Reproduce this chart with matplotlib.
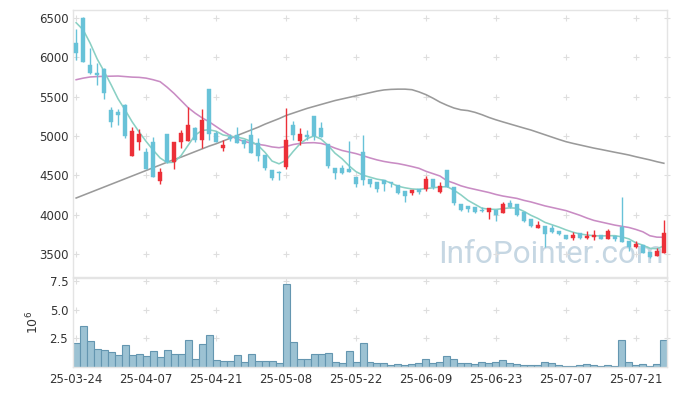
import matplotlib
matplotlib.use("Agg")
import matplotlib.pyplot as plt
import numpy as np

# ---------------- data ----------------
opens = [6178, 6505, 5902, 5804, 5851, 5330, 5304, 5393, 4748, 4919,
         4799, 4927, 4430, 5025, 4673, 4927, 4940, 5105, 4948, 5597,
         5040, 4843, 4990, 5010, 4948, 5010, 4906, 4757, 4567, 4545,
         4609, 5139, 4940, 5012, 5253, 5101, 4893, 4588, 4588, 4575,
         4481, 4791, 4455, 4408, 4440, 4418, 4376, 4303, 4270, 4322,
         4325, 4452, 4290, 4567, 4346, 4134, 4109, 4092, 4058, 4036,
         4058, 4023, 4143, 4132, 4028, 3943, 3833, 3858, 3833, 3795,
         3740, 3706, 3770, 3697, 3720, 3740, 3689, 3727, 3838, 3663,
         3591, 3612, 3527, 3476, 3506]
highs = [6356, 6510, 6115, 5924, 5870, 5372, 5339, 5400, 5117, 5088,
         4843, 4990, 4596, 5025, 4923, 5079, 5372, 5117, 5339, 5597,
         5060, 4948, 5030, 5117, 4948, 5169, 4970, 4757, 4567, 4550,
         5351, 5190, 5097, 5075, 5253, 5177, 4893, 4588, 4630, 4935,
         4481, 5012, 4455, 4408, 4440, 4418, 4376, 4303, 4312, 4322,
         4490, 4452, 4418, 4567, 4346, 4134, 4109, 4092, 4090, 4080,
         4058, 4160, 4190, 4132, 4028, 3943, 3918, 3858, 3870, 3795,
         3740, 3780, 3770, 3790, 3800, 3740, 3820, 3727, 4221, 3663,
         3660, 3612, 3527, 3570, 3930]
lows = [5966, 5940, 5790, 5648, 5466, 5110, 5139, 4970, 4748, 4821,
        4576, 4481, 4385, 4650, 4579, 4850, 4940, 4920, 4843, 4948,
        4920, 4808, 4930, 4906, 4843, 4787, 4685, 4570, 4440, 4440,
        4575, 4948, 4885, 4948, 4948, 4983, 4590, 4448, 4520, 4545,
        4350, 4380, 4350, 4290, 4300, 4350, 4260, 4160, 4250, 4260,
        4300, 4320, 4280, 4346, 4120, 4040, 4030, 4020, 4030, 3940,
        3920, 4023, 4080, 3985, 3900, 3845, 3833, 3583, 3770, 3740,
        3685, 3680, 3690, 3690, 3680, 3689, 3689, 3660, 3647, 3540,
        3570, 3515, 3450, 3476, 3506]
closes = [6051, 5944, 5797, 5771, 5542, 5181, 5270, 4999, 5063, 5021,
          4576, 4481, 4537, 4673, 4923, 5033, 5139, 4948, 5203, 5025,
          4927, 4885, 4955, 4906, 4893, 4787, 4748, 4596, 4461, 4532,
          4948, 5012, 5021, 4986, 4999, 4983, 4621, 4532, 4532, 4545,
          4389, 4440, 4392, 4330, 4385, 4395, 4278, 4240, 4312, 4287,
          4452, 4354, 4363, 4346, 4143, 4058, 4067, 4036, 4050, 4080,
          3994, 4134, 4092, 3990, 3918, 3858, 3867, 3752, 3782, 3752,
          3685, 3740, 3697, 3727, 3735, 3689, 3795, 3685, 3647, 3591,
          3621, 3515, 3464, 3536, 3761]
volume_m = [2.08, 3.57, 2.23, 1.61, 1.46, 1.34, 1.07, 1.88, 1.07, 1.16,
            0.98, 1.43, 0.89, 1.52, 1.16, 1.16, 2.32, 0.71, 1.96, 2.77,
            0.63, 0.54, 0.54, 1.07, 0.45, 1.16, 0.54, 0.54, 0.54, 0.36,
            7.23, 2.14, 0.71, 0.71, 1.16, 1.16, 1.25, 0.45, 0.36, 1.43,
            0.45, 2.05, 0.45, 0.36, 0.36, 0.18, 0.27, 0.18, 0.27, 0.36,
            0.71, 0.36, 0.45, 0.98, 0.71, 0.36, 0.36, 0.27, 0.45, 0.36,
            0.45, 0.63, 0.36, 0.27, 0.18, 0.18, 0.18, 0.45, 0.36, 0.18,
            0.09, 0.09, 0.18, 0.27, 0.18, 0.09, 0.18, 0.09, 2.32, 0.45,
            0.18, 0.27, 0.09, 0.27, 2.32]
ma_short = [6440, 6350, 6180, 5980, 5820, 5650, 5470, 5330, 5180, 5050,
            4930, 4820, 4720, 4660, 4665, 4750, 4880, 5010, 5070, 5078,
            5060, 5012, 4995, 4985, 4965, 4930, 4880, 4790, 4680, 4645,
            4690, 4800, 4900, 4965, 5000, 4960, 4880, 4780, 4710, 4620,
            4545, 4500, 4475, 4450, 4435, 4400, 4360, 4340, 4325, 4320,
            4330, 4340, 4350, 4355, 4310, 4250, 4180, 4130, 4080, 4068,
            4065, 4075, 4085, 4080, 4040, 3990, 3950, 3900, 3870, 3840,
            3805, 3775, 3752, 3740, 3730, 3727, 3730, 3731, 3715, 3690,
            3640, 3610, 3570, 3565, 3600]
ma_mid = [5715, 5735, 5750, 5755, 5758, 5760, 5762, 5755, 5748, 5745,
          5735, 5715, 5690, 5620, 5540, 5450, 5360, 5290, 5230, 5180,
          5120, 5060, 5005, 4960, 4930, 4910, 4893, 4880, 4860, 4850,
          4865, 4890, 4905, 4912, 4914, 4905, 4880, 4845, 4815, 4795,
          4775, 4748, 4720, 4695, 4675, 4660, 4648, 4630, 4610, 4588,
          4550, 4520, 4490, 4430, 4400, 4365, 4340, 4320, 4300, 4280,
          4255, 4235, 4220, 4205, 4180, 4160, 4135, 4110, 4090, 4070,
          4050, 4020, 3990, 3955, 3925, 3905, 3885, 3865, 3850, 3835,
          3810, 3780, 3730, 3712, 3710]
ma_long = [4210, 4245, 4280, 4315, 4350, 4385, 4420, 4455, 4490, 4525,
           4560, 4595, 4630, 4665, 4700, 4730, 4765, 4800, 4835, 4870,
           4900, 4935, 4970, 5005, 5040, 5075, 5110, 5150, 5185, 5220,
           5260, 5290, 5320, 5350, 5375, 5400, 5425, 5450, 5470, 5490,
           5510, 5530, 5550, 5570, 5585, 5592, 5595, 5595, 5588, 5560,
           5525, 5480, 5430, 5390, 5355, 5332, 5322, 5300, 5270, 5235,
           5205, 5178, 5152, 5126, 5100, 5075, 5045, 5015, 4985, 4955,
           4927, 4905, 4885, 4865, 4845, 4828, 4810, 4792, 4775, 4757,
           4735, 4715, 4695, 4672, 4652]
date_labels = ['25-03-24', '25-04-07', '25-04-21', '25-05-08', '25-05-22',
               '25-06-09', '25-06-23', '25-07-07', '25-07-21']
date_label_idx = [0, 10, 20, 30, 40, 50, 60, 70, 80]
price_ticks = [3500, 4000, 4500, 5000, 5500, 6000, 6500]
vol_ticks = [2.5, 5.0, 7.5]

# ---------------- style ----------------
UP = '#ec3038'
DOWN = '#68c2d8'
GRID = '#dedede'
SPINE = '#e4e4e4'
TXT = '#333333'

fig = plt.figure(figsize=(6.77, 3.96), dpi=100)
W, H = 677, 396
ax = fig.add_axes([73 / W, 1 - 277 / H, (667 - 73) / W, (277 - 10) / H])
axv = fig.add_axes([73 / W, 1 - 367 / H, (667 - 73) / W, (367 - 278) / H])

n = len(closes)
x = np.arange(n)
xl = (-0.45, n - 1 + 0.45)

# watermark
ax.text(0.995, 0.03, 'InfoPointer.com', transform=ax.transAxes, ha='right', va='bottom',
        fontsize=22.7, color='#c6d7e3', family='Roboto', zorder=0)

# grid crosses
gx, gy = np.meshgrid(date_label_idx + [xl[1]], price_ticks)
ax.scatter(gx.ravel(), gy.ravel(), marker='+', s=18, color=GRID, linewidths=0.8, zorder=1, clip_on=False)

# moving averages
ax.plot(x, ma_long, color='#9a9a9a', lw=1.15, zorder=2)
ax.plot(x, ma_mid, color='#c98cc4', lw=1.15, zorder=2)
ax.plot(x, ma_short, color='#8ad0c4', lw=1.15, zorder=2)

# candles
for i in range(n):
    o, h, l, c = opens[i], highs[i], lows[i], closes[i]
    col = UP if c >= o else DOWN
    ax.vlines(i, l, h, color=col, lw=1.0, zorder=3)
    body = max(abs(c - o), 8)
    ax.bar(i, body, bottom=min(o, c), width=0.66, color=col, edgecolor=col, lw=0.3, zorder=4)

ax.set_xlim(*xl)
ax.set_ylim(3205, 6602)
ax.set_yticks(price_ticks)
ax.set_yticklabels([str(t) for t in price_ticks])
ax.set_xticks(date_label_idx)
ax.tick_params(axis='x', labelbottom=False, length=0)
ax.tick_params(axis='y', length=0, pad=3, labelsize=8.5, labelcolor=TXT)
for s in ax.spines.values():
    s.set_color(SPINE)
    s.set_linewidth(1.0)

# volume
gvx, gvy = np.meshgrid(date_label_idx + [xl[1]], vol_ticks)
axv.scatter(gvx.ravel(), gvy.ravel(), marker='+', s=18, color=GRID, linewidths=0.8, zorder=1, clip_on=False)
axv.bar(x, volume_m, width=1.0, color='#9cc2d3', edgecolor='#6496b0', lw=0.8, zorder=2)
axv.set_xlim(*xl)
axv.set_ylim(0, 7.75)
axv.set_yticks(vol_ticks)
axv.set_yticklabels(['2.5', '5.0', '7.5'])
axv.set_xticks(date_label_idx)
axv.set_xticklabels(date_labels)
axv.tick_params(axis='both', length=0, labelsize=8.5, labelcolor=TXT)
axv.tick_params(axis='x', pad=4)
axv.set_ylabel(r'$10^6$', color=TXT, fontsize=9, labelpad=6)
for s in axv.spines.values():
    s.set_color(SPINE)
    s.set_linewidth(1.0)

fig.savefig('out.png', dpi=100, facecolor='white')
